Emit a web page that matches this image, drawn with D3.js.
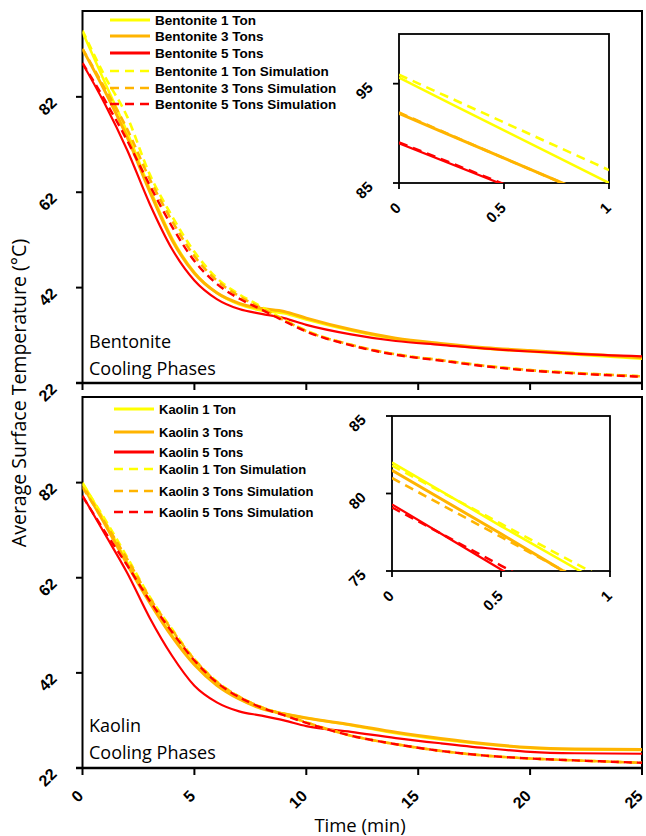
<!DOCTYPE html>
<html>
<head>
<meta charset="utf-8">
<script src="https://cdn.jsdelivr.net/npm/d3@7"></script>
<style>
  body { margin: 0; background: #fff; }
  svg { display: block; }
  .tick-label { font-family: "Liberation Sans", Arial, sans-serif; font-weight: bold; }
  .legend-text { font-family: "Liberation Sans", Arial, sans-serif; font-weight: bold; }
  .title { font-family: "Open Sans", "Liberation Sans", sans-serif; }
</style>
</head>
<body>
<div id="chart"></div>
<script>
// time axis (min)
const times = [0, 1, 2, 3, 4, 5, 6, 7, 8, 9, 10, 12, 14, 16, 18, 20, 22, 25];

// Bentonite, measured
const bentonite1 = [95.6, 85.0, 74.6, 62.8, 52.4, 45.2, 40.9, 38.5, 37.2, 36.6, 35.3, 33.0, 31.2, 30.1, 29.2, 28.6, 28.0, 27.1];
const bentonite3 = [92.0, 83.2, 73.5, 62.2, 52.0, 45.0, 40.9, 38.7, 37.6, 37.0, 35.6, 33.2, 31.4, 30.3, 29.4, 28.8, 28.2, 27.3];
const bentonite5 = [89.0, 80.5, 70.8, 59.6, 50.1, 43.5, 39.6, 37.5, 36.5, 35.6, 34.2, 32.2, 30.8, 30.0, 29.2, 28.6, 28.1, 27.6];
// Bentonite, simulation
const bentonite1Sim = [95.9, 86.3, 77.8, 65.8, 57.0, 49.5, 44.0, 40.6, 38.0, 35.3, 33.0, 30.0, 28.0, 26.8, 25.6, 24.7, 24.1, 23.4];
const bentonite3Sim = [92.1, 83.8, 75.2, 64.8, 56.0, 48.6, 43.5, 40.2, 37.7, 35.2, 32.9, 30.0, 28.0, 26.8, 25.6, 24.7, 24.1, 23.4];
const bentonite5Sim = [89.1, 81.3, 72.8, 63.5, 54.8, 47.6, 42.8, 39.7, 37.4, 35.0, 32.8, 29.9, 27.9, 26.7, 25.5, 24.6, 24.0, 23.3];

// Kaolin, measured
const kaolin1 = [82.0, 73.9, 65.2, 57.2, 49.9, 44.0, 39.6, 36.6, 34.6, 33.4, 32.5, 31.0, 29.3, 28.0, 27.0, 26.2, 25.9, 25.8];
const kaolin3 = [81.5, 73.3, 64.8, 56.8, 49.6, 43.7, 39.4, 36.5, 34.5, 33.4, 32.5, 31.1, 29.5, 28.2, 27.1, 26.3, 26.0, 25.9];
const kaolin5 = [79.3, 71.2, 63.0, 53.6, 45.6, 39.3, 35.8, 33.9, 33.0, 32.0, 30.8, 29.6, 28.3, 27.2, 26.2, 25.4, 25.1, 25.0];
// Kaolin, simulation
const kaolin1Sim = [81.8, 74.3, 66.3, 58.0, 51.2, 44.9, 40.2, 37.0, 34.8, 33.2, 31.6, 28.8, 27.0, 25.6, 24.6, 24.0, 23.6, 23.1];
const kaolin3Sim = [81.0, 73.6, 65.9, 57.8, 51.0, 44.8, 40.1, 37.0, 34.8, 33.2, 31.6, 28.8, 27.0, 25.6, 24.6, 24.0, 23.6, 23.1];
const kaolin5Sim = [79.1, 71.7, 64.6, 57.2, 50.6, 44.6, 40.0, 36.9, 34.7, 33.1, 31.5, 28.8, 27.0, 25.6, 24.6, 24.0, 23.6, 23.1];

// zoomed insets, first minute
const insetTimes = [0, 0.5, 1];
const bentoniteInset1 = [95.6, 90.3, 85.0];
const bentoniteInset3 = [92.0, 87.5, 83.0];
const bentoniteInset5 = [89.0, 84.8, 80.6];
const bentoniteInset1Sim = [95.9, 91.1, 86.3];
const bentoniteInset3Sim = [92.1, 87.5, 83.0];
const bentoniteInset5Sim = [89.1, 84.9, 80.7];
const kaolinInset1 = [82.0, 77.9, 73.9];
const kaolinInset3 = [81.5, 77.4, 73.2];
const kaolinInset5 = [79.3, 75.1, 70.9];
const kaolinInset1Sim = [81.8, 78.05, 74.3];
const kaolinInset3Sim = [81.0, 77.2, 73.4];
const kaolinInset5Sim = [79.1, 75.35, 71.6];

// ticks
const xTicks = [0, 5, 10, 15, 20, 25];
const yTicks = [22, 42, 62, 82];
const insetXTicks = [0, 0.5, 1];
const bentoniteInsetYTicks = [85, 95];
const kaolinInsetYTicks = [75, 80, 85];

const bentoniteNames = ['Bentonite 1 Ton', 'Bentonite 3 Tons', 'Bentonite 5 Tons',
  'Bentonite 1 Ton Simulation', 'Bentonite 3 Tons Simulation', 'Bentonite 5 Tons Simulation'];
const kaolinNames = ['Kaolin 1 Ton', 'Kaolin 3 Tons', 'Kaolin 5 Tons',
  'Kaolin 1 Ton Simulation', 'Kaolin 3 Tons Simulation', 'Kaolin 5 Tons Simulation'];

const colors = ['#ffff00', '#ffb400', '#ff0000', '#ffff00', '#ffb400', '#ff0000'];
const widths = [2.5, 3, 2.2, 2.6, 2.6, 2.4];
const dashed = [false, false, false, true, true, true];

const svg = d3.select('#chart').append('svg')
  .attr('width', 646)
  .attr('height', 836);

const mainX = d3.scaleLinear().domain([0, 25]).range([82.5, 642]);

function drawSeries(g, xScale, yScale, xs, seriesList, clipId, dash) {
  const line = d3.line()
    .x((d, i) => xScale(xs[i]))
    .y(d => yScale(d))
    .curve(d3.curveMonotoneX);
  seriesList.forEach((s, i) => {
    g.append('path')
      .datum(s)
      .attr('clip-path', `url(#${clipId})`)
      .attr('fill', 'none')
      .attr('stroke', colors[i])
      .attr('stroke-width', widths[i])
      .attr('stroke-dasharray', dashed[i] ? dash : null)
      .attr('d', line);
  });
}

function addClip(id, x0, y0, x1, y1) {
  svg.append('clipPath').attr('id', id)
    .append('rect')
      .attr('x', x0).attr('y', y0)
      .attr('width', x1 - x0).attr('height', y1 - y0);
}

function drawPanel(opt) {
  const y = d3.scaleLinear().domain([22, 100]).range([opt.bottom, opt.top]);
  const g = svg.append('g');
  addClip(opt.id + '-clip', 82.5, opt.top, 642, opt.bottom);

  // frame
  g.append('rect')
    .attr('x', 82.5).attr('y', opt.top)
    .attr('width', 642 - 82.5).attr('height', opt.bottom - opt.top)
    .attr('fill', 'none').attr('stroke', '#000').attr('stroke-width', 2);

  // y ticks
  yTicks.forEach(t => {
    g.append('line')
      .attr('x1', 76).attr('x2', 82.5)
      .attr('y1', y(t)).attr('y2', y(t))
      .attr('stroke', '#000').attr('stroke-width', 2);
    g.append('text')
      .attr('class', 'tick-label')
      .attr('font-size', 16)
      .attr('text-anchor', 'end')
      .attr('dominant-baseline', 'central')
      .attr('transform', `translate(${54},${y(t) + 3}) rotate(-45)`)
      .text(t);
  });
  // x ticks
  xTicks.forEach(t => {
    g.append('line')
      .attr('x1', mainX(t)).attr('x2', mainX(t))
      .attr('y1', opt.bottom).attr('y2', opt.bottom + 7)
      .attr('stroke', '#000').attr('stroke-width', 2);
    if (opt.xLabels) {
      g.append('text')
        .attr('class', 'tick-label')
        .attr('font-size', 16)
        .attr('text-anchor', 'end')
        .attr('dominant-baseline', 'central')
        .attr('transform', `translate(${mainX(t) - 2},${opt.bottom + 25}) rotate(-45)`)
        .text(t);
    }
  });
  g.append('line')
    .attr('x1', 76).attr('x2', 642)
    .attr('y1', opt.bottom).attr('y2', opt.bottom)
    .attr('stroke', '#000').attr('stroke-width', 2.5);

  drawSeries(g, mainX, y, times, opt.series, opt.id + '-clip', '8,5');

  // legend
  opt.names.forEach((name, i) => {
    const ly = opt.legendY[i];
    g.append('line')
      .attr('x1', opt.legendX).attr('x2', opt.legendX + 40)
      .attr('y1', ly).attr('y2', ly)
      .attr('stroke', colors[i])
      .attr('stroke-width', dashed[i] ? 2.6 : 3)
      .attr('stroke-dasharray', dashed[i] ? '9,6' : null);
    g.append('text')
      .attr('class', 'legend-text')
      .attr('font-size', opt.legendFont)
      .attr('x', opt.legendX + 45)
      .attr('y', ly)
      .attr('dominant-baseline', 'central')
      .text(name);
  });

  // panel label
  opt.label.forEach((txt, i) => {
    g.append('text')
      .attr('class', 'title')
      .attr('font-size', 18)
      .attr('x', 89)
      .attr('y', opt.labelY + i * 27)
      .text(txt);
  });

  // inset
  const ins = opt.inset;
  const ix = d3.scaleLinear().domain([0, 1]).range([ins.x0, ins.x1]);
  const iy = d3.scaleLinear().domain(ins.domain).range([ins.y1, ins.y0]);
  addClip(opt.id + '-inset-clip', ins.x0, ins.y0, ins.x1, ins.y1);
  g.append('rect')
    .attr('x', ins.x0).attr('y', ins.y0)
    .attr('width', ins.x1 - ins.x0).attr('height', ins.y1 - ins.y0)
    .attr('fill', '#fff').attr('stroke', '#000').attr('stroke-width', 1.8);
  drawSeries(g, ix, iy, insetTimes, ins.series, opt.id + '-inset-clip', '9,6');
  ins.yTicks.forEach(t => {
    g.append('line')
      .attr('x1', ins.x0 - 6).attr('x2', ins.x0)
      .attr('y1', iy(t)).attr('y2', iy(t))
      .attr('stroke', '#000').attr('stroke-width', 1.8);
    g.append('text')
      .attr('class', 'tick-label')
      .attr('font-size', 15)
      .attr('text-anchor', 'end')
      .attr('dominant-baseline', 'central')
      .attr('transform', `translate(${ins.x0 - 29},${iy(t) + 1}) rotate(-45)`)
      .text(t);
  });
  insetXTicks.forEach(t => {
    g.append('line')
      .attr('x1', ix(t)).attr('x2', ix(t))
      .attr('y1', ins.y1).attr('y2', ins.y1 + 6)
      .attr('stroke', '#000').attr('stroke-width', 1.8);
    g.append('text')
      .attr('class', 'tick-label')
      .attr('font-size', 15)
      .attr('text-anchor', 'end')
      .attr('dominant-baseline', 'central')
      .attr('transform', `translate(${ix(t) - 1},${ins.y1 + 22}) rotate(-45)`)
      .text(t);
  });
}

drawPanel({
  id: 'bentonite',
  top: 11, bottom: 383,
  xLabels: false,
  series: [bentonite1, bentonite3, bentonite5, bentonite1Sim, bentonite3Sim, bentonite5Sim],
  names: bentoniteNames,
  legendX: 110, legendY: [20, 36, 53, 71, 88, 104], legendFont: 13.5,
  label: ['Bentonite', 'Cooling Phases'], labelY: 348,
  inset: {
    x0: 399, x1: 609, y0: 34, y1: 183, domain: [85, 100],
    yTicks: bentoniteInsetYTicks,
    series: [bentoniteInset1, bentoniteInset3, bentoniteInset5,
      bentoniteInset1Sim, bentoniteInset3Sim, bentoniteInset5Sim]
  }
});

drawPanel({
  id: 'kaolin',
  top: 397, bottom: 768,
  xLabels: true,
  series: [kaolin1, kaolin3, kaolin5, kaolin1Sim, kaolin3Sim, kaolin5Sim],
  names: kaolinNames,
  legendX: 114, legendY: [409, 432, 452, 469, 491, 512], legendFont: 13,
  label: ['Kaolin', 'Cooling Phases'], labelY: 732,
  inset: {
    x0: 392, x1: 610, y0: 416, y1: 571, domain: [75, 85],
    yTicks: kaolinInsetYTicks,
    series: [kaolinInset1, kaolinInset3, kaolinInset5,
      kaolinInset1Sim, kaolinInset3Sim, kaolinInset5Sim]
  }
});

// axis titles
svg.append('text')
  .attr('class', 'title')
  .attr('font-size', 19.5)
  .attr('text-anchor', 'middle')
  .attr('transform', 'translate(26,393) rotate(-90)')
  .text('Average Surface Temperature (°C)');

svg.append('text')
  .attr('class', 'title')
  .attr('font-size', 18.5)
  .attr('text-anchor', 'middle')
  .attr('x', 360)
  .attr('y', 832)
  .text('Time (min)');
</script>
</body>
</html>
